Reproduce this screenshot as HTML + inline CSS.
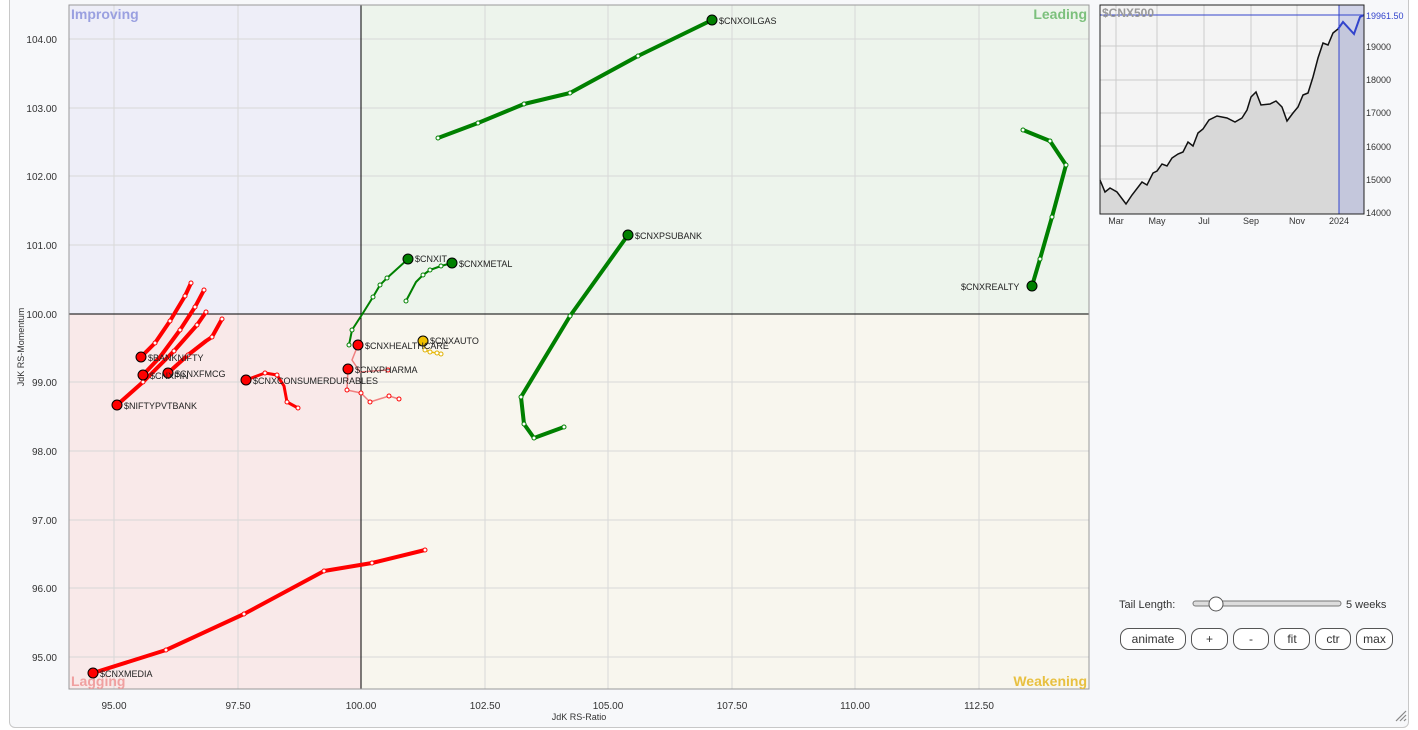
<!DOCTYPE html>
<html><head><meta charset="utf-8"><style>
body{margin:0;width:1418px;height:730px;background:#fff;font-family:"Liberation Sans",sans-serif;overflow:hidden;position:relative}
.panel{position:absolute;left:9px;top:-6px;width:1398px;height:732px;border:1px solid #c8c8c8;border-radius:6px;background:#f7f8fa}
.btn{position:absolute;top:628px;height:20px;border:1px solid #555;border-radius:9px;background:#fff;font-size:12px;color:#333;text-align:center;line-height:20px}
</style></head><body>
<div class="panel"></div>
<svg width="1418" height="730" style="position:absolute;left:0;top:0" font-family="Liberation Sans, sans-serif">
<rect x="69" y="5" width="292" height="309" fill="#eeeef8"/>
<rect x="361" y="5" width="728" height="309" fill="#edf4ec"/>
<rect x="69" y="314" width="292" height="375" fill="#f9e9e9"/>
<rect x="361" y="314" width="728" height="375" fill="#f8f6ee"/>
<g stroke="#d8d8d8" stroke-width="1">
<line x1="114" y1="5" x2="114" y2="689"/><line x1="238" y1="5" x2="238" y2="689"/><line x1="485" y1="5" x2="485" y2="689"/><line x1="608" y1="5" x2="608" y2="689"/><line x1="732" y1="5" x2="732" y2="689"/><line x1="855" y1="5" x2="855" y2="689"/><line x1="979" y1="5" x2="979" y2="689"/>
<line x1="69" y1="39" x2="1089" y2="39"/><line x1="69" y1="108" x2="1089" y2="108"/><line x1="69" y1="176" x2="1089" y2="176"/><line x1="69" y1="245" x2="1089" y2="245"/><line x1="69" y1="382" x2="1089" y2="382"/><line x1="69" y1="451" x2="1089" y2="451"/><line x1="69" y1="520" x2="1089" y2="520"/><line x1="69" y1="588" x2="1089" y2="588"/><line x1="69" y1="657" x2="1089" y2="657"/>
</g>
<line x1="361" y1="5" x2="361" y2="689" stroke="#000"/>
<line x1="69" y1="314" x2="1089" y2="314" stroke="#000"/>
<rect x="69" y="5" width="1020" height="684" fill="none" stroke="#999"/>
<g font-size="10" fill="#333" text-anchor="end">
<text x="57" y="43">104.00</text><text x="57" y="112">103.00</text><text x="57" y="180">102.00</text><text x="57" y="249">101.00</text><text x="57" y="318">100.00</text><text x="57" y="386">99.00</text><text x="57" y="455">98.00</text><text x="57" y="524">97.00</text><text x="57" y="592">96.00</text><text x="57" y="661">95.00</text>
</g>
<g font-size="10" fill="#333" text-anchor="middle">
<text x="114" y="709">95.00</text><text x="238" y="709">97.50</text><text x="361" y="709">100.00</text><text x="485" y="709">102.50</text><text x="608" y="709">105.00</text><text x="732" y="709">107.50</text><text x="855" y="709">110.00</text><text x="979" y="709">112.50</text>
<text x="579" y="720" font-size="9">JdK RS-Ratio</text>
</g>
<text transform="translate(24,347) rotate(-90)" font-size="9" fill="#333" text-anchor="middle">JdK RS-Momentum</text>
<g font-size="14" font-weight="bold">
<text x="71" y="19" fill="#9aa0e0">Improving</text>
<text x="1087" y="19" fill="#7cc07c" text-anchor="end">Leading</text>
<text x="71" y="686" fill="#f0a0a0">Lagging</text>
<text x="1087" y="686" fill="#e8c040" text-anchor="end">Weakening</text>
</g>
<g fill="none" stroke-linecap="round" stroke-linejoin="round">
<polyline stroke="#008000" stroke-width="4" points="438,138 478,123 524,104 570,93 638,56 712,20"/>
<polyline stroke="#008000" stroke-width="4" points="564,427 534,438 524,424 521,397 570,316 628,235"/>
<polyline stroke="#008000" stroke-width="4" points="1023,130 1050,141 1066,165 1052,217 1040,259 1032,286"/>
<polyline stroke="#008000" stroke-width="2" points="349,345 352,330 363,313 373,297 380,285 387,278 408,259"/>
<polyline stroke="#008000" stroke-width="2" points="406,301 416,282 423,275 430,270 441,266 452,263"/>
<polyline stroke="#f08080" stroke-width="1.5" points="399,399 389,396 370,402 361,393 347,390 348,369"/>
<polyline stroke="#f08080" stroke-width="1.5" points="388,370 360,372 352,360 358,345"/>
<polyline stroke="#f0c000" stroke-width="1.5" points="441,354 437,353 430,352 425,350 423,341"/>
<polyline stroke="#f00" stroke-width="3" points="298,408 287,402 284,386 277,375 265,373 246,380"/>
<polyline stroke="#f00" stroke-width="4" points="191,283 185,296 170,321 155,343 141,357"/>
<polyline stroke="#f00" stroke-width="4" points="204,290 195,307 180,330 160,357 143,375"/>
<polyline stroke="#f00" stroke-width="4" points="222,319 212,337 206,341 188,355 168,373"/>
<polyline stroke="#f00" stroke-width="4" points="206,312 197,325 174,351 143,382 117,405"/>
<polyline stroke="#f00" stroke-width="4" points="425,550 372,563 324,571 244,614 166,650 93,673"/>
</g>
<g fill="#fff" stroke-width="1">
<g stroke="#008000"><circle cx="438" cy="138" r="2"/><circle cx="478" cy="123" r="2"/><circle cx="524" cy="104" r="2"/><circle cx="570" cy="93" r="2"/><circle cx="638" cy="56" r="2"/><circle cx="564" cy="427" r="2"/><circle cx="534" cy="438" r="2"/><circle cx="524" cy="424" r="2"/><circle cx="521" cy="397" r="2"/><circle cx="570" cy="316" r="2"/><circle cx="1023" cy="130" r="2"/><circle cx="1050" cy="141" r="2"/><circle cx="1066" cy="165" r="2"/><circle cx="1052" cy="217" r="2"/><circle cx="1040" cy="259" r="2"/><circle cx="349" cy="345" r="2"/><circle cx="352" cy="330" r="2"/><circle cx="373" cy="297" r="2"/><circle cx="380" cy="285" r="2"/><circle cx="387" cy="278" r="2"/><circle cx="406" cy="301" r="2"/><circle cx="423" cy="275" r="2"/><circle cx="430" cy="270" r="2"/><circle cx="441" cy="266" r="2"/></g>
<g stroke="#f00"><circle cx="399" cy="399" r="2"/><circle cx="389" cy="396" r="2"/><circle cx="370" cy="402" r="2"/><circle cx="361" cy="393" r="2"/><circle cx="347" cy="390" r="2"/><circle cx="388" cy="370" r="2"/><circle cx="298" cy="408" r="2"/><circle cx="287" cy="402" r="2"/><circle cx="277" cy="375" r="2"/><circle cx="265" cy="373" r="2"/><circle cx="191" cy="283" r="2"/><circle cx="185" cy="296" r="2"/><circle cx="170" cy="321" r="2"/><circle cx="155" cy="343" r="2"/><circle cx="204" cy="290" r="2"/><circle cx="195" cy="307" r="2"/><circle cx="180" cy="330" r="2"/><circle cx="222" cy="319" r="2"/><circle cx="212" cy="337" r="2"/><circle cx="188" cy="355" r="2"/><circle cx="206" cy="312" r="2"/><circle cx="197" cy="325" r="2"/><circle cx="174" cy="351" r="2"/><circle cx="143" cy="382" r="2"/><circle cx="425" cy="550" r="2"/><circle cx="372" cy="563" r="2"/><circle cx="324" cy="571" r="2"/><circle cx="244" cy="614" r="2"/><circle cx="166" cy="650" r="2"/></g>
<g stroke="#e0b000"><circle cx="441" cy="354" r="2"/><circle cx="437" cy="353" r="2"/><circle cx="430" cy="352" r="2"/><circle cx="425" cy="350" r="2"/></g>
</g>
<g stroke="#000" stroke-width="1">
<g fill="#008000"><circle cx="712" cy="20" r="5"/><circle cx="628" cy="235" r="5"/><circle cx="1032" cy="286" r="5"/><circle cx="408" cy="259" r="5"/><circle cx="452" cy="263" r="5"/></g>
<circle cx="423" cy="341" r="5" fill="#f0c000"/>
<g fill="#f00"><circle cx="358" cy="345" r="5"/><circle cx="348" cy="369" r="5"/><circle cx="246" cy="380" r="5"/><circle cx="141" cy="357" r="5"/><circle cx="143" cy="375" r="5"/><circle cx="168" cy="373" r="5"/><circle cx="117" cy="405" r="5"/><circle cx="93" cy="673" r="5"/></g>
</g>
<g font-size="9" fill="#222">
<text x="719" y="24">$CNXOILGAS</text><text x="635" y="239">$CNXPSUBANK</text><text x="961" y="290">$CNXREALTY</text><text x="415" y="262">$CNXIT</text><text x="459" y="267">$CNXMETAL</text><text x="430" y="344">$CNXAUTO</text><text x="365" y="349">$CNXHEALTHCARE</text><text x="355" y="373">$CNXPHARMA</text><text x="253" y="384">$CNXCONSUMERDURABLES</text><text x="148" y="361">$BANKNIFTY</text><text x="150" y="379">$CNXFIN</text><text x="175" y="377">$CNXFMCG</text><text x="124" y="409">$NIFTYPVTBANK</text><text x="100" y="677">$CNXMEDIA</text>
</g>
<!-- mini chart -->
<rect x="1100" y="5" width="264" height="209" fill="#f4f4f4"/>
<g stroke="#ccc"><line x1="1116" y1="5" x2="1116" y2="214"/><line x1="1157" y1="5" x2="1157" y2="214"/><line x1="1204" y1="5" x2="1204" y2="214"/><line x1="1251" y1="5" x2="1251" y2="214"/><line x1="1297" y1="5" x2="1297" y2="214"/>
<line x1="1100" y1="46" x2="1364" y2="46"/><line x1="1100" y1="80" x2="1364" y2="80"/><line x1="1100" y1="113" x2="1364" y2="113"/><line x1="1100" y1="146" x2="1364" y2="146"/><line x1="1100" y1="179" x2="1364" y2="179"/></g>
<polygon fill="#d8d8d8" points="1100,180 1105,192 1110,188 1117,192 1126,204 1132,195 1142,182 1147,185 1153,173 1157,171 1162,164 1167,166 1172,158 1178,154 1183,152 1188,142 1193,146 1198,133 1203,129 1209,120 1217,116 1227,118 1235,122 1242,118 1247,110 1251,97 1256,92 1261,105 1270,104 1276,101 1282,107 1287,121 1293,113 1298,107 1303,95 1308,93 1313,77 1318,58 1323,43 1328,45 1333,33 1338,29 1343,22 1354,34 1360,17 1364,15 1364,214 1100,214"/>
<rect x="1339" y="5" width="25" height="209" fill="#b8bce0" opacity="0.6"/>
<polyline fill="none" stroke="#111" stroke-width="1.5" points="1100,180 1105,192 1110,188 1117,192 1126,204 1132,195 1142,182 1147,185 1153,173 1157,171 1162,164 1167,166 1172,158 1178,154 1183,152 1188,142 1193,146 1198,133 1203,129 1209,120 1217,116 1227,118 1235,122 1242,118 1247,110 1251,97 1256,92 1261,105 1270,104 1276,101 1282,107 1287,121 1293,113 1298,107 1303,95 1308,93 1313,77 1318,58 1323,43 1328,45 1333,33 1338,29"/>
<polyline fill="none" stroke="#3344cc" stroke-width="2" points="1338,29 1343,22 1354,34 1360,17 1364,15"/>
<line x1="1100" y1="15" x2="1364" y2="15" stroke="#3344cc"/>
<line x1="1339" y1="5" x2="1339" y2="214" stroke="#3344cc"/>
<line x1="1364" y1="5" x2="1364" y2="214" stroke="#3344cc"/>
<rect x="1100" y="5" width="264" height="209" fill="none" stroke="#222"/>
<text x="1102" y="17" font-size="12" font-weight="bold" fill="#999">$CNX500</text>
<g font-size="9" fill="#333"><text x="1366" y="19" fill="#3344cc">19961.50</text><text x="1366" y="50">19000</text><text x="1366" y="83">18000</text><text x="1366" y="116">17000</text><text x="1366" y="150">16000</text><text x="1366" y="183">15000</text><text x="1366" y="216">14000</text></g>
<g font-size="9" fill="#333" text-anchor="middle"><text x="1116" y="224">Mar</text><text x="1157" y="224">May</text><text x="1204" y="224">Jul</text><text x="1251" y="224">Sep</text><text x="1297" y="224">Nov</text><text x="1339" y="224">2024</text></g>
<text x="1119" y="608" font-size="11" fill="#333">Tail Length:</text>
<rect x="1193" y="601" width="148" height="5" rx="2.5" fill="#ddd" stroke="#777"/>
<circle cx="1216" cy="604" r="7" fill="#fff" stroke="#555"/>
<text x="1346" y="608" font-size="11" fill="#333">5 weeks</text>
<g stroke="#888" stroke-width="1.2"><line x1="1396" y1="721" x2="1406" y2="711"/><line x1="1400" y1="721" x2="1406" y2="715"/><line x1="1404" y1="721" x2="1406" y2="719"/></g>
</svg>
<div class="btn" style="left:1120px;width:64px">animate</div>
<div class="btn" style="left:1191px;width:35px">+</div>
<div class="btn" style="left:1233px;width:34px">-</div>
<div class="btn" style="left:1274px;width:34px">fit</div>
<div class="btn" style="left:1315px;width:34px">ctr</div>
<div class="btn" style="left:1356px;width:35px">max</div>
</body></html>
